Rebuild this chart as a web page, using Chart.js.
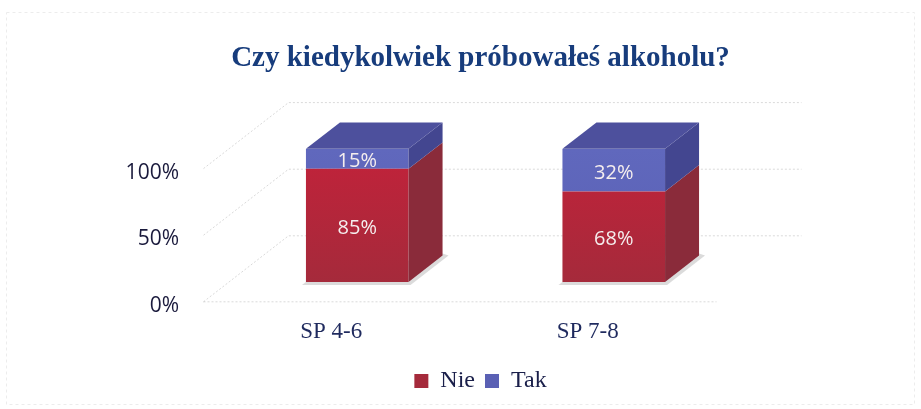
<!DOCTYPE html>
<html>
<head>
<meta charset="utf-8">
<title>Czy kiedykolwiek próbowałeś alkoholu?</title>
<script src="https://cdn.jsdelivr.net/npm/chart.js@4.4.1/dist/chart.umd.min.js"></script>
<style>
    body { margin: 0; background: #fff; }
    #wrap { width: 921px; height: 409px; }
</style>
</head>
<body>
<div id="wrap"><canvas id="alcoholChart"></canvas></div>
<script>
const groups = ['SP 4-6', 'SP 7-8'];
const nieValues = [85, 68];
const takValues = [15, 32];
const yTicks = [0, 50, 100];

// fake 3D: box depth vector, bars sit between 0.3 and 0.7 of the depth
const depth = { x: 85, y: -66 };
const barFront = 0.3;
const barBack = 0.7;

const serif = '"Liberation Serif", "Times New Roman", serif';
const sans = '"Open Sans", "Noto Sans", sans-serif';

function frontFill(top, bottom) {
    return (c) => {
        const { ctx, chartArea } = c.chart;
        if (!chartArea) return bottom;
        const g = ctx.createLinearGradient(0, chartArea.top, 0, chartArea.bottom);
        g.addColorStop(0, top);
        g.addColorStop(1, bottom);
        return g;
    };
}

function poly(ctx, pts) {
    ctx.beginPath();
    ctx.moveTo(pts[0][0], pts[0][1]);
    for (let i = 1; i < pts.length; i++) ctx.lineTo(pts[i][0], pts[i][1]);
    ctx.closePath();
    ctx.fill();
}

const wallsPlugin = {
    id: 'walls',
    beforeDraw(chart) {
        const { ctx } = chart;
        ctx.save();
        ctx.strokeStyle = '#ececec';
        ctx.setLineDash([3, 3]);
        ctx.strokeRect(6.5, 12.5, 908, 392);
        ctx.restore();
    },
    beforeDatasetsDraw(chart) {
        const { ctx, chartArea, scales: { y } } = chart;
        const fx = -barFront * depth.x, fy = -barFront * depth.y;
        const bx = (1 - barFront) * depth.x, by = (1 - barFront) * depth.y;
        ctx.save();
        ctx.strokeStyle = 'rgba(160,160,160,0.4)';
        ctx.lineWidth = 1;
        ctx.setLineDash([2, 2]);
        yTicks.forEach(v => {
            const py = y.getPixelForValue(v);
            ctx.beginPath();
            ctx.moveTo(chartArea.left + fx, py + fy);
            ctx.lineTo(chartArea.left + bx, py + by);
            ctx.lineTo(chartArea.right + bx, py + by);
            ctx.stroke();
        });
        const p0 = y.getPixelForValue(0);
        ctx.beginPath();
        ctx.moveTo(chartArea.left + fx, p0 + fy);
        ctx.lineTo(chartArea.right + fx, p0 + fy);
        ctx.stroke();

        // soft floor shadow under each bar
        const dx = (barBack - barFront) * depth.x;
        const dy = (barBack - barFront) * depth.y;
        ctx.setLineDash([]);
        ctx.fillStyle = 'rgba(90,90,90,0.22)';
        chart.getDatasetMeta(0).data.forEach(bar => {
            const left = bar.x - bar.width / 2;
            const right = bar.x + bar.width / 2;
            const b = bar.base;
            poly(ctx, [[left - 4, b + 3], [right + 2, b + 3], [right + dx + 6, b + dy], [right + dx, b + dy - 2], [left, b]]);
        });
        ctx.restore();
    }
};

const cubePlugin = {
    id: 'cube',
    afterDatasetsDraw(chart) {
        const { ctx } = chart;
        const dx = (barBack - barFront) * depth.x;
        const dy = (barBack - barFront) * depth.y;
        const metas = chart.getSortedVisibleDatasetMetas();
        ctx.save();
        groups.forEach((g, i) => {
            metas.forEach((meta, k) => {
                const bar = meta.data[i];
                const ds = chart.data.datasets[meta.index];
                const left = bar.x - bar.width / 2;
                const right = bar.x + bar.width / 2;
                const top = Math.min(bar.y, bar.base);
                const bottom = Math.max(bar.y, bar.base);
                ctx.fillStyle = ds.sideColor;
                poly(ctx, [[right, bottom], [right, top], [right + dx, top + dy], [right + dx, bottom + dy]]);
                if (k === metas.length - 1) {
                    ctx.fillStyle = ds.topColor;
                    poly(ctx, [[left, top], [right, top], [right + dx, top + dy], [left + dx, top + dy]]);
                }
            });
        });
        ctx.restore();
    }
};

const valueLabels = {
    id: 'valueLabels',
    afterDatasetsDraw(chart) {
        const { ctx } = chart;
        ctx.save();
        ctx.font = '20px ' + sans;
        ctx.fillStyle = '#f5eeee';
        ctx.textAlign = 'center';
        ctx.textBaseline = 'middle';
        chart.getSortedVisibleDatasetMetas().forEach(meta => {
            const values = chart.data.datasets[meta.index].data;
            meta.data.forEach((bar, i) => {
                ctx.fillText(values[i] + '%', bar.x, (bar.y + bar.base) / 2 + 3);
            });
        });
        ctx.restore();
    }
};

const ctx = document.getElementById('alcoholChart').getContext('2d');
new Chart(ctx, {
    type: 'bar',
    data: {
        labels: groups,
        datasets: [{
            label: 'Nie',
            data: nieValues,
            backgroundColor: frontFill('#c2223a', '#a52a3b'),
            sideColor: '#8a2b3a',
            topColor: '#b0283a',
            borderWidth: 0,
            categoryPercentage: 0.8,
            barPercentage: 0.5
        }, {
            label: 'Tak',
            data: takValues,
            backgroundColor: frontFill('#6068bd', '#5a60b4'),
            sideColor: '#434690',
            topColor: '#4d509d',
            borderWidth: 0,
            categoryPercentage: 0.8,
            barPercentage: 0.5
        }]
    },
    options: {
        responsive: true,
        maintainAspectRatio: false,
        animation: false,
        layout: { padding: { left: 40, right: 0, top: 0, bottom: 6 } },
        plugins: {
            title: {
                display: true,
                text: 'Czy kiedykolwiek próbowałeś alkoholu?',
                color: '#173c7c',
                font: { family: serif, size: 29, weight: 'bold' },
                padding: { top: 41, bottom: 73 }
            },
            legend: {
                position: 'bottom',
                labels: {
                    boxWidth: 14,
                    boxHeight: 14,
                    padding: 10,
                    color: '#1a1f4a',
                    font: { family: serif, size: 24 }
                }
            },
            tooltip: { enabled: false }
        },
        scales: {
            x: {
                stacked: true,
                grid: { display: false },
                border: { display: false },
                ticks: {
                    color: '#1f2a5e',
                    font: { family: serif, size: 23 },
                    padding: 28,
                    labelOffset: -26
                },
                afterFit(s) { s.height = 77; }
            },
            y: {
                stacked: true,
                min: 0,
                max: 100,
                grid: { display: false },
                border: { display: false },
                ticks: {
                    stepSize: 50,
                    padding: 42,
                    labelOffset: 24,
                    color: '#1a1a3c',
                    font: { family: sans, size: 21 },
                    callback: v => v + '%'
                },
                afterFit(s) { s.width = 189; }
            },
            yRight: {
                type: 'linear',
                position: 'right',
                grid: { display: false },
                border: { display: false },
                ticks: { display: false },
                afterFit(s) { s.width = 179; }
            }
        }
    },
    plugins: [wallsPlugin, cubePlugin, valueLabels]
});
</script>
</body>
</html>
